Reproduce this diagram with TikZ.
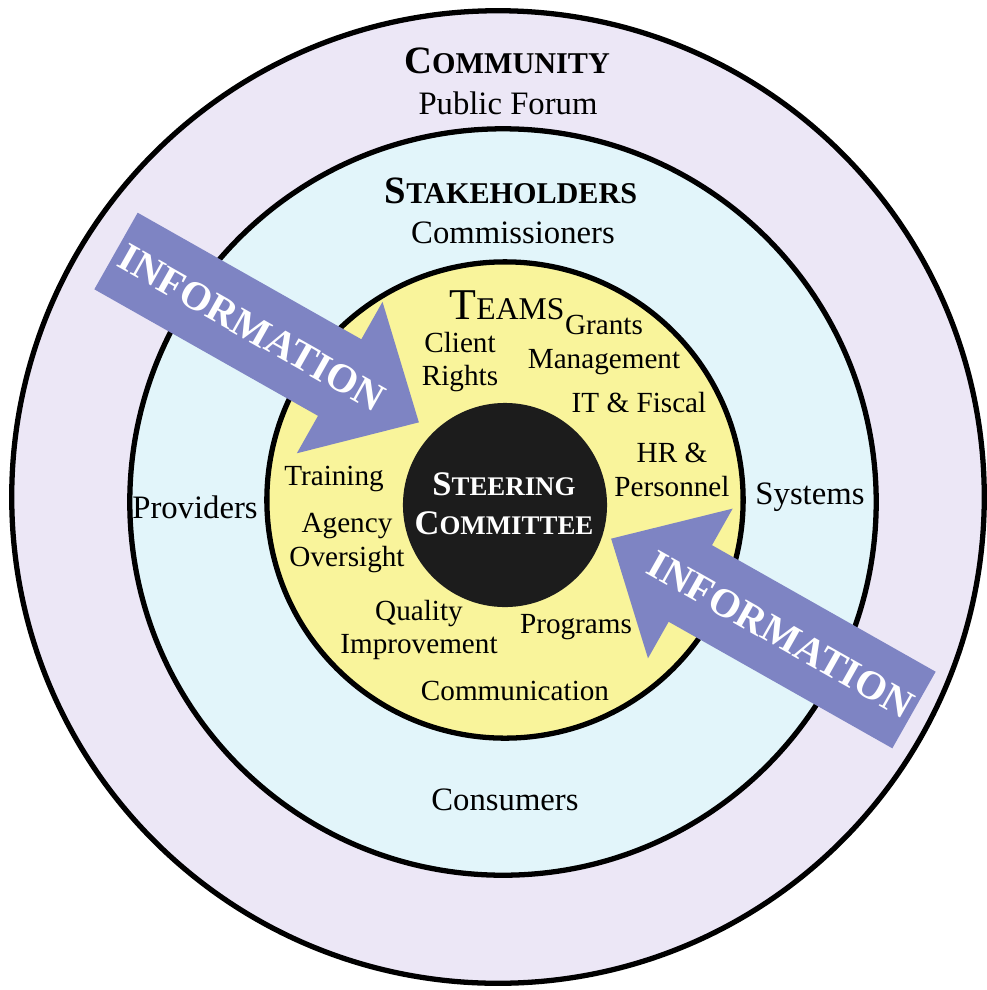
\documentclass[tikz,border=0pt]{standalone}
\usepackage{fontspec}
\setmainfont{Liberation Serif}
\usetikzlibrary{positioning}
\definecolor{commfill}{HTML}{ECE7F6}
\definecolor{stakefill}{HTML}{E2F5FA}
\definecolor{teamfill}{HTML}{F9F49B}
\definecolor{infofill}{HTML}{7E84C3}
\definecolor{steerfill}{HTML}{1C1C1C}
\newcommand{\smcap}[2]{#1\scalebox{0.78}{#2}}

\begin{document}
\begin{tikzpicture}[
			x=0.01cm, y=-0.01cm,
			ring/.style={circle, draw=black, line width=1.5pt, inner sep=0pt},
			outerlabel/.style={font=\fontsize{9.3}{11}\selectfont, inner sep=0pt},
			teamlabel/.style={font=\fontsize{8.3}{9.5}\selectfont, align=center, inner sep=0pt},
			heading/.style={font=\fontsize{11}{13}\selectfont\bfseries, inner sep=0pt},
			infotext/.style={font=\fontsize{11.5}{13}\selectfont\bfseries, text=white, rotate=-29.5, inner sep=0pt}
			]
			\fill[white] (0,0) rectangle (987,990);
			\useasboundingbox (0,0) rectangle (987,990);
			\node[ring, fill=commfill, minimum size=9.72cm] (community) at (498,497) {};
			\node[ring, fill=stakefill, minimum size=7.46cm] (stakeholders) at (503,502) {};
			\node[ring, fill=teamfill, minimum size=4.76cm] (teams) at (505,500) {};
			\node[circle, fill=steerfill, inner sep=0pt, minimum size=2.04cm] (steering) at (505,505) {};
			% information arrows
			\begin{scope}[shift={(116,251)}, rotate=-29.5]
				\fill[infofill] (0,-44) -- (257,-44) -- (257,-87) -- (348,0) -- (257,87) -- (257,44) -- (0,44) -- cycle;
				\node[infotext] (infoin) at (156,0) {INFORMATION};
			\end{scope}
			\begin{scope}[shift={(914,710)}, rotate=150.5]
				\fill[infofill] (0,-44) -- (257,-44) -- (257,-86) -- (348,0) -- (257,86) -- (257,44) -- (0,44) -- cycle;
				\node[infotext] (infoout) at (153,0) {INFORMATION};
			\end{scope}
			\node[heading] (commtitle) at (507,61) {\smcap{C}{OMMUNITY}};
			\node[outerlabel] (forum) at (508,103) {Public Forum};
			\node[heading] (staketitle) at (511,191) {\smcap{S}{TAKEHOLDERS}};
			\node[outerlabel] (commissioners) at (513,233) {Commissioners};
			\node[outerlabel] (providers) at (195,507) {Providers};
			\node[outerlabel] (systems) at (810,497) {Systems};
			\node[outerlabel] (consumers) at (505,800) {Consumers};
			\node[font=\fontsize{12.5}{14}\selectfont, inner sep=0pt] (teamtitle) at (507,305) {T\scalebox{0.72}{EAMS}};
			\node[teamlabel] (client) at (460,362) {Client\\Rights};
			\node[teamlabel] (grants) at (604,345) {Grants\\Management};
			\node[teamlabel] (fiscal) at (639,403) {IT \& Fiscal};
			\node[teamlabel] (hr) at (672,470) {HR \&\\Personnel};
			\node[teamlabel] (training) at (334,479) {Training};
			\node[teamlabel] (agency) at (347,543) {Agency\\Oversight};
			\node[teamlabel] (quality) at (419,630) {Quality\\Improvement};
			\node[teamlabel] (programs) at (576,627) {Programs};
			\node[teamlabel] (communication) at (515,691) {Communication};
			\node[font=\fontsize{9.8}{11}\selectfont\bfseries, text=white, align=center, inner sep=0pt] (steertitle) at (504,504) {\smcap{S}{TEERING}\\\smcap{C}{OMMITTEE}};
		\end{tikzpicture}
\end{document}
